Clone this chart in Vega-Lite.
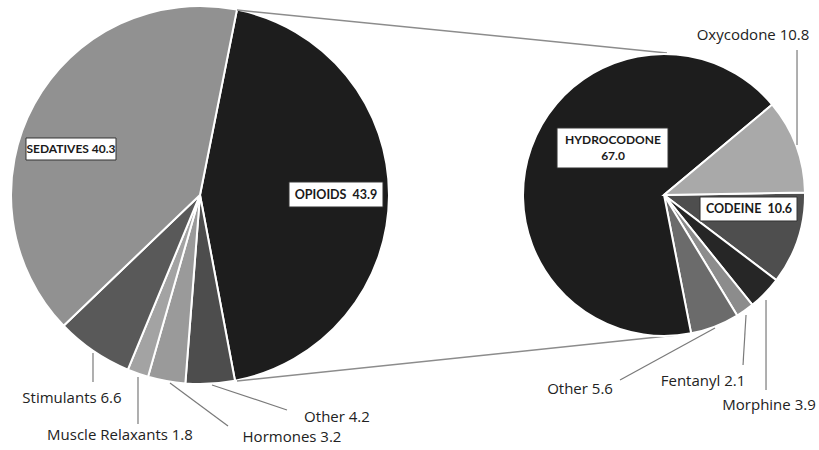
{
  "$schema": "https://vega.github.io/schema/vega-lite/v6.json",
  "width": 819,
  "height": 450,
  "padding": 0,
  "autosize": {"type": "none"},
  "background": "white",
  "config": {"view": {"stroke": null}},
  "datasets": {
    "main": [
      {"name": "OPIOIDS", "value": 43.9, "label": "OPIOIDS\u00a0 43.9"},
      {"name": "Other", "value": 4.2, "label": "Other 4.2"},
      {"name": "Hormones", "value": 3.2, "label": "Hormones 3.2"},
      {"name": "Muscle Relaxants", "value": 1.8, "label": "Muscle Relaxants 1.8"},
      {"name": "Stimulants", "value": 6.6, "label": "Stimulants 6.6"},
      {"name": "SEDATIVES", "value": 40.3, "label": "SEDATIVES 40.3"}
    ],
    "detail": [
      {"name": "CODEINE", "value": 10.6, "label": "CODEINE\u00a0 10.6"},
      {"name": "Morphine", "value": 3.9, "label": "Morphine 3.9"},
      {"name": "Fentanyl", "value": 2.1, "label": "Fentanyl 2.1"},
      {"name": "Other", "value": 5.6, "label": "Other 5.6"},
      {"name": "HYDROCODONE", "value": 67.0, "label": "HYDROCODONE\n67.0"},
      {"name": "Oxycodone", "value": 10.8, "label": "Oxycodone 10.8"}
    ]
  },
  "encoding": {
    "y": {"datum": "c", "type": "nominal", "scale": {"type": "point", "domain": ["c"], "padding": 0, "align": 0.4333}, "axis": null}
  },
  "layer": [
    {
      "data": {"name": "main"},
      "transform": [{"window": [{"op": "row_number", "as": "i"}]}],
      "encoding": {
        "x": {"datum": "main", "type": "nominal", "scale": {"type": "point", "domain": ["main", "detail"], "padding": 0.3825, "align": 0.5634}, "axis": null}
      },
      "layer": [
        {
          "mark": {"type": "arc", "outerRadius": 189, "stroke": "white", "strokeWidth": 2},
          "encoding": {
            "theta": {"field": "value", "type": "quantitative", "stack": true, "scale": {"range": [0.197, 6.480]}},
            "order": {"field": "i", "type": "quantitative"},
            "color": {"field": "name", "type": "nominal", "legend": null,
              "scale": {"domain": ["OPIOIDS", "Other", "Hormones", "Muscle Relaxants", "Stimulants", "SEDATIVES"],
                        "range": ["#1d1d1d", "#4d4d4d", "#9a9a9a", "#a3a3a3", "#595959", "#919191"]}}
          }
        },
        {
          "transform": [{"filter": "datum.name === 'OPIOIDS'"}],
          "mark": {"type": "rule", "color": "#8c8c8c", "strokeWidth": 1.5, "xOffset": 37, "yOffset": -185, "x2Offset": 3, "y2Offset": -142},
          "encoding": {"x2": {"datum": "detail"}, "y2": {"datum": "c"}}
        },
        {
          "transform": [{"filter": "datum.name === 'OPIOIDS'"}],
          "mark": {"type": "rule", "color": "#8c8c8c", "strokeWidth": 1.5, "xOffset": 37, "yOffset": 186, "x2Offset": 13, "y2Offset": 140},
          "encoding": {"x2": {"datum": "detail"}, "y2": {"datum": "c"}}
        },
        {
          "transform": [{"filter": "datum.name === 'Stimulants'"}],
          "mark": {"type": "rule", "color": "#7a7a7a", "strokeWidth": 1.2, "xOffset": -107, "yOffset": 158, "x2Offset": -107, "y2Offset": 187},
          "encoding": {"x2": {"datum": "main"}, "y2": {"datum": "c"}}
        },
        {
          "transform": [{"filter": "datum.name === 'Muscle Relaxants'"}],
          "mark": {"type": "rule", "color": "#7a7a7a", "strokeWidth": 1.2, "xOffset": -62, "yOffset": 182, "x2Offset": -62, "y2Offset": 229},
          "encoding": {"x2": {"datum": "main"}, "y2": {"datum": "c"}}
        },
        {
          "transform": [{"filter": "datum.name === 'Hormones'"}],
          "mark": {"type": "rule", "color": "#7a7a7a", "strokeWidth": 1.2, "xOffset": -30, "yOffset": 188, "x2Offset": 28, "y2Offset": 231},
          "encoding": {"x2": {"datum": "main"}, "y2": {"datum": "c"}}
        },
        {
          "transform": [{"filter": "datum.name === 'Other'"}],
          "mark": {"type": "rule", "color": "#7a7a7a", "strokeWidth": 1.2, "xOffset": 12, "yOffset": 190, "x2Offset": 87, "y2Offset": 215},
          "encoding": {"x2": {"datum": "main"}, "y2": {"datum": "c"}}
        },
        {
          "transform": [{"filter": "datum.name === 'SEDATIVES'"}],
          "mark": {"type": "rect", "fill": "white", "stroke": "#333333", "strokeWidth": 1, "xOffset": -174, "x2Offset": -84, "yOffset": -57, "y2Offset": -35},
          "encoding": {"x2": {"datum": "main"}, "y2": {"datum": "c"}}
        },
        {
          "transform": [{"filter": "datum.name === 'OPIOIDS'"}],
          "mark": {"type": "rect", "fill": "white", "stroke": "#333333", "strokeWidth": 1, "xOffset": 89, "x2Offset": 183, "yOffset": -13, "y2Offset": 12},
          "encoding": {"x2": {"datum": "main"}, "y2": {"datum": "c"}}
        },
        {
          "transform": [{"filter": "datum.name === 'SEDATIVES'"}],
          "mark": {"type": "text", "font": "Lato", "fontWeight": "bold", "fontSize": 12, "color": "#1a1a1a", "align": "center", "baseline": "middle", "dx": -129, "dy": -46},
          "encoding": {"text": {"field": "label"}}
        },
        {
          "transform": [{"filter": "datum.name === 'OPIOIDS'"}],
          "mark": {"type": "text", "font": "Lato", "fontWeight": "bold", "fontSize": 12.5, "color": "#1a1a1a", "align": "center", "baseline": "middle", "dx": 136, "dy": 0},
          "encoding": {"text": {"field": "label"}}
        },
        {
          "transform": [{"filter": "datum.name === 'Stimulants'"}],
          "mark": {"type": "text", "font": "Open Sans", "fontSize": 15, "color": "#222222", "align": "center", "baseline": "middle", "dx": -128, "dy": 203},
          "encoding": {"text": {"field": "label"}}
        },
        {
          "transform": [{"filter": "datum.name === 'Muscle Relaxants'"}],
          "mark": {"type": "text", "font": "Open Sans", "fontSize": 15, "color": "#222222", "align": "center", "baseline": "middle", "dx": -80, "dy": 240},
          "encoding": {"text": {"field": "label"}}
        },
        {
          "transform": [{"filter": "datum.name === 'Hormones'"}],
          "mark": {"type": "text", "font": "Open Sans", "fontSize": 15, "color": "#222222", "align": "center", "baseline": "middle", "dx": 92, "dy": 242},
          "encoding": {"text": {"field": "label"}}
        },
        {
          "transform": [{"filter": "datum.name === 'Other'"}],
          "mark": {"type": "text", "font": "Open Sans", "fontSize": 15, "color": "#222222", "align": "center", "baseline": "middle", "dx": 137, "dy": 222},
          "encoding": {"text": {"field": "label"}}
        }
      ]
    },
    {
      "data": {"name": "detail"},
      "transform": [{"window": [{"op": "row_number", "as": "i"}]}],
      "encoding": {
        "x": {"datum": "detail", "type": "nominal", "scale": {"type": "point", "domain": ["main", "detail"], "padding": 0.3825, "align": 0.5634}, "axis": null}
      },
      "layer": [
        {
          "mark": {"type": "arc", "outerRadius": 141, "stroke": "white", "strokeWidth": 2},
          "encoding": {
            "theta": {"field": "value", "type": "quantitative", "stack": true, "scale": {"range": [1.5533, 7.8365]}},
            "order": {"field": "i", "type": "quantitative"},
            "color": {"field": "name", "type": "nominal", "legend": null,
              "scale": {"domain": ["CODEINE", "Morphine", "Fentanyl", "Other", "HYDROCODONE", "Oxycodone"],
                        "range": ["#4e4e4e", "#262626", "#8c8c8c", "#6b6b6b", "#1d1d1d", "#a9a9a9"]}}
          }
        },
        {
          "transform": [{"filter": "datum.name === 'Oxycodone'"}],
          "mark": {"type": "rule", "color": "#7a7a7a", "strokeWidth": 1.2, "xOffset": 133, "yOffset": -145, "x2Offset": 133, "y2Offset": -50},
          "encoding": {"x2": {"datum": "detail"}, "y2": {"datum": "c"}}
        },
        {
          "transform": [{"filter": "datum.name === 'Other'"}],
          "mark": {"type": "rule", "color": "#7a7a7a", "strokeWidth": 1.2, "xOffset": 51, "yOffset": 133, "x2Offset": -44, "y2Offset": 185},
          "encoding": {"x2": {"datum": "detail"}, "y2": {"datum": "c"}}
        },
        {
          "transform": [{"filter": "datum.name === 'Fentanyl'"}],
          "mark": {"type": "rule", "color": "#7a7a7a", "strokeWidth": 1.2, "xOffset": 82, "yOffset": 120, "x2Offset": 79, "y2Offset": 170},
          "encoding": {"x2": {"datum": "detail"}, "y2": {"datum": "c"}}
        },
        {
          "transform": [{"filter": "datum.name === 'Morphine'"}],
          "mark": {"type": "rule", "color": "#7a7a7a", "strokeWidth": 1.2, "xOffset": 102, "yOffset": 105, "x2Offset": 102, "y2Offset": 195},
          "encoding": {"x2": {"datum": "detail"}, "y2": {"datum": "c"}}
        },
        {
          "transform": [{"filter": "datum.name === 'HYDROCODONE'"}],
          "mark": {"type": "rect", "fill": "white", "stroke": "#333333", "strokeWidth": 1, "xOffset": -107, "x2Offset": 4, "yOffset": -67, "y2Offset": -27},
          "encoding": {"x2": {"datum": "detail"}, "y2": {"datum": "c"}}
        },
        {
          "transform": [{"filter": "datum.name === 'CODEINE'"}],
          "mark": {"type": "rect", "fill": "white", "stroke": "#333333", "strokeWidth": 1, "xOffset": 36, "x2Offset": 133, "yOffset": 2, "y2Offset": 26},
          "encoding": {"x2": {"datum": "detail"}, "y2": {"datum": "c"}}
        },
        {
          "transform": [{"filter": "datum.name === 'HYDROCODONE'"}],
          "mark": {"type": "text", "font": "Lato", "fontWeight": "bold", "fontSize": 12, "color": "#1a1a1a", "align": "center", "baseline": "middle", "lineBreak": "\n", "lineHeight": 16, "dx": -51, "dy": -55},
          "encoding": {"text": {"field": "label"}}
        },
        {
          "transform": [{"filter": "datum.name === 'CODEINE'"}],
          "mark": {"type": "text", "font": "Lato", "fontWeight": "bold", "fontSize": 12.5, "color": "#1a1a1a", "align": "center", "baseline": "middle", "dx": 85, "dy": 14},
          "encoding": {"text": {"field": "label"}}
        },
        {
          "transform": [{"filter": "datum.name === 'Oxycodone'"}],
          "mark": {"type": "text", "font": "Open Sans", "fontSize": 15, "color": "#222222", "align": "center", "baseline": "middle", "dx": 89, "dy": -160},
          "encoding": {"text": {"field": "label"}}
        },
        {
          "transform": [{"filter": "datum.name === 'Other'"}],
          "mark": {"type": "text", "font": "Open Sans", "fontSize": 15, "color": "#222222", "align": "center", "baseline": "middle", "dx": -84, "dy": 194},
          "encoding": {"text": {"field": "label"}}
        },
        {
          "transform": [{"filter": "datum.name === 'Fentanyl'"}],
          "mark": {"type": "text", "font": "Open Sans", "fontSize": 15, "color": "#222222", "align": "center", "baseline": "middle", "dx": 39, "dy": 186},
          "encoding": {"text": {"field": "label"}}
        },
        {
          "transform": [{"filter": "datum.name === 'Morphine'"}],
          "mark": {"type": "text", "font": "Open Sans", "fontSize": 15, "color": "#222222", "align": "center", "baseline": "middle", "dx": 105, "dy": 210},
          "encoding": {"text": {"field": "label"}}
        }
      ]
    }
  ],
  "resolve": {"scale": {"theta": "independent", "color": "independent"}}
}
